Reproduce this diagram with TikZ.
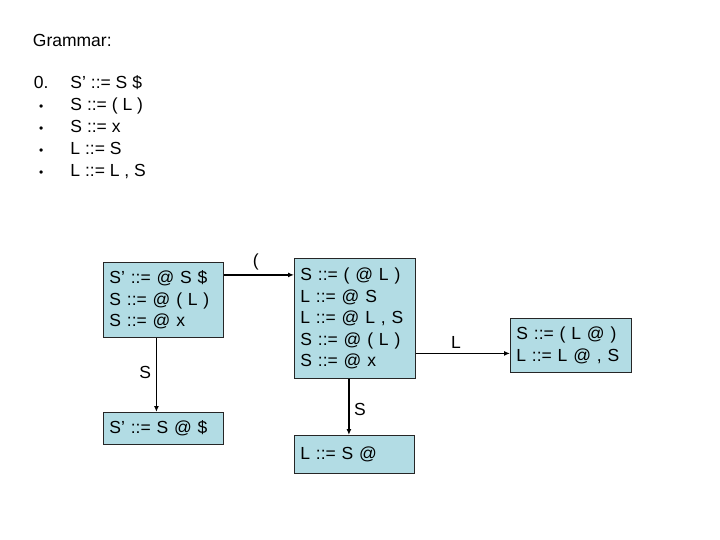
\documentclass[tikz,border=0pt]{standalone}
\usepackage{fontspec}
\setmainfont{Liberation Sans}
\usetikzlibrary{arrows.meta, positioning}
\definecolor{itembox}{RGB}{178,220,228}

\begin{document}
\begin{tikzpicture}[
    x=1pt, y=1pt, ->, >={Latex[length=6pt, width=5pt]}, line width=1.8pt,
    every node/.style={font=\fontsize{17.5}{21.5}\selectfont, align=left},
    itemset/.style={draw=black!85, line width=0.8pt, fill=itembox, anchor=north west, inner xsep=6pt, inner ysep=0pt, text width=#1}
]
\useasboundingbox (0,0) rectangle (720,-540);

\node (grammar_title) [anchor=west, inner sep=0pt] at (32,-40) {Grammar:};
\node (grammar_rules) [anchor=north west, inner sep=0pt] at (33,-72) {\fontsize{17.5}{22}\selectfont
\begin{tabular}{@{}c@{\hspace{22pt}}l@{}}
0. & S’ ::= S \$\\
{\fontsize{12}{12}\selectfont\textbullet} & S ::= ( L )\\
{\fontsize{12}{12}\selectfont\textbullet} & S ::= x\\
{\fontsize{12}{12}\selectfont\textbullet} & L ::= S\\
{\fontsize{12}{12}\selectfont\textbullet} & L ::= L , S
\end{tabular}};

\node (state_start) [itemset=108pt, minimum height=75pt] at (103,-262) {S’ ::= @ S \$\\S ::= @ ( L )\\S ::= @ x};
\node (state_after_s) [itemset=108pt, minimum height=32pt] at (103,-412) {S’ ::= S @ \$};
\node (state_after_lparen) [itemset=109pt, minimum height=120pt] at (294,-258) {S ::= ( @ L )\\L ::= @ S\\L ::= @ L , S\\S ::= @ ( L )\\S ::= @ x};
\node (state_after_inner_s) [itemset=108pt, minimum height=38pt] at (294,-435) {L ::= S @};
\node (state_after_l) [itemset=109pt, minimum height=54pt] at (510,-318) {S ::= ( L @ )\\L ::= L @ , S};

\draw[->] ([yshift=25pt]state_start.east) -- ([yshift=25pt]state_start.east -| state_after_lparen.west) node[midway, above, xshift=-3pt, yshift=1pt] {(};
\draw[->] ([xshift=-7pt]state_start.south) -- ([xshift=-7pt]state_start.south |- state_after_s.north) node[midway, left, xshift=-1pt, yshift=2pt] {S};
\draw[->] ([xshift=-6pt]state_after_lparen.south) -- ([xshift=-6pt]state_after_lparen.south |- state_after_inner_s.north) node[midway, right, xshift=1pt, yshift=-3pt] {S};
\draw[->] ([yshift=-35pt]state_after_lparen.east) -- ([yshift=-35pt]state_after_lparen.east -| state_after_l.west) node[midway, above, xshift=-7pt, yshift=1pt] {L};
\end{tikzpicture}
\end{document}
